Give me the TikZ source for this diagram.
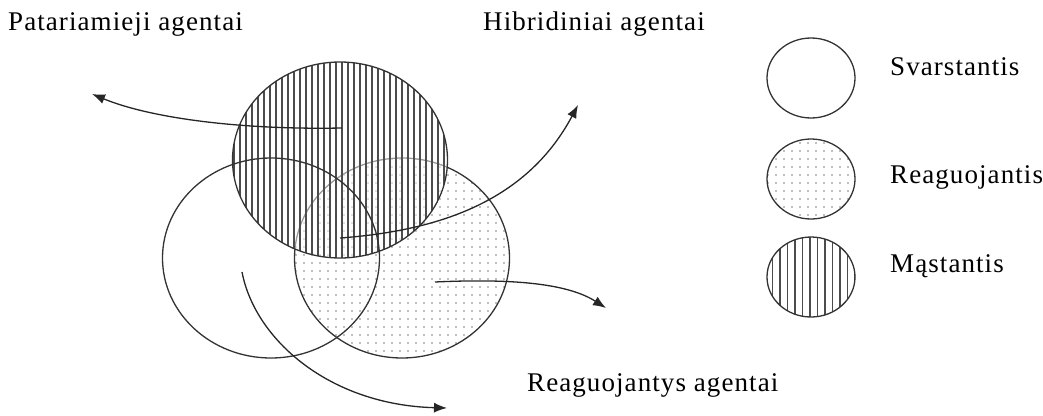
\documentclass[tikz,border=0pt]{standalone}
\usepackage{fontspec}
\setmainfont[LetterSpace=4]{Liberation Serif}
\usepackage{tikz}
\usetikzlibrary{shapes.geometric, patterns.meta, arrows.meta}

\begin{document}
\begin{tikzpicture}[x=1pt, y=-1pt,
  circ/.style={draw=black!80, line width=1.3pt, ellipse, inner sep=0pt},
  dots/.style={pattern={Dots[distance=8pt, radius=0.9pt]}, pattern color=black!50},
  stripes/.style={pattern={Lines[distance=#1, angle=90, line width=1.4pt]}, pattern color=black!70},
  lbl/.style={font=\fontsize{27}{31}\selectfont, inner sep=0pt, anchor=base west},
  flow/.style={-{Latex[length=13pt,width=10pt]}, line width=1.3pt, draw=black!85}]
\useasboundingbox (0,0) rectangle (1043,415);
% the three agent kinds
\node[circ, dots, minimum width=215pt, minimum height=200pt] (reag) at (402,258) {};
\node[circ, minimum width=215pt, minimum height=196pt,
      preaction={fill=white, fill opacity=0.5}, stripes=6pt] (mast) at (340,160) {};
\node[circ, minimum width=217pt, minimum height=200pt] (svar) at (271,258) {};
% legend
\node[circ, minimum width=88pt, minimum height=80pt] (lsvar) at (811,78) {};
\node[circ, dots, minimum width=88pt, minimum height=80pt] (lreag) at (811,179) {};
\node[circ, stripes=7.5pt, minimum width=88pt, minimum height=80pt] (lmast) at (811,277) {};
\node[lbl] (tsvar) at (890,75) {Svarstantis};
\node[lbl] (treag) at (890,183) {Reaguojantis};
\node[lbl] (tmast) at (890,272) {Mąstantis};
% group names
\node[lbl] (tpat) at (8,30) {Patariamieji agentai};
\node[lbl] (thib) at (483,30) {Hibridiniai agentai};
\node[lbl] (trea) at (527,391) {Reaguojantys agentai};
% flows
\coordinate (p0) at (342,128);
\coordinate (p1) at (92,94);
\coordinate (h0) at (340,238);
\coordinate (h1) at (578,105);
\coordinate (r0) at (435,282);
\coordinate (r1) at (606,308);
\coordinate (v0) at (242,272);
\coordinate (v1) at (447,408);
\draw[flow] (p0) .. controls (240,130) and (150,118) .. (p1);
\draw[flow] (h0) .. controls (450,230) and (530,195) .. (h1);
\draw[flow] (r0) .. controls (520,278) and (570,285) .. (r1);
\draw[flow] (v0) .. controls (255,340) and (330,405) .. (v1);
\end{tikzpicture}
\end{document}
